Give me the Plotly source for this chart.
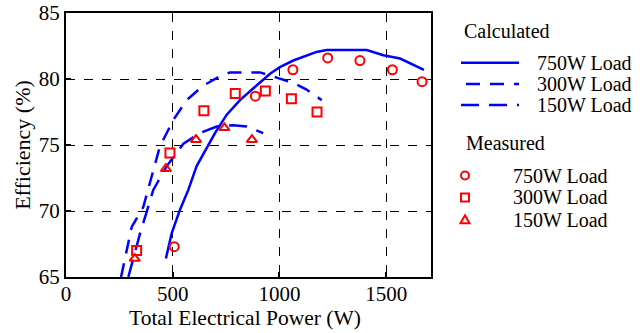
import plotly.graph_objects as go

# ---- Data ----
calc750_x = [468, 495, 534, 573, 612, 659, 698, 753, 815, 878, 956, 1002, 1065, 1174, 1221, 1409, 1487, 1565, 1627, 1677]
calc750_y = [66.4, 68.3, 70.1, 71.6, 73.4, 74.75, 75.9, 77.3, 78.4, 79.3, 80.4, 80.9, 81.4, 82.05, 82.2, 82.2, 81.8, 81.55, 81.05, 80.7]

calc300_x = [258, 308, 362, 440, 503, 565, 643, 721, 768, 846, 909, 987, 1065, 1127, 1198]
calc300_y = [65.0, 68.8, 70.3, 74.9, 76.9, 78.4, 79.5, 80.2, 80.5, 80.5, 80.5, 80.1, 79.7, 79.2, 78.4]

calc150_x = [292, 347, 409, 472, 550, 627, 706, 784, 846, 924]
calc150_y = [65.0, 68.3, 71.6, 73.4, 75.1, 75.9, 76.4, 76.5, 76.4, 75.9]

meas750_x = [507, 887, 1063, 1226, 1377, 1529, 1668]
meas750_y = [67.3, 78.7, 80.7, 81.6, 81.4, 80.7, 79.8]

meas300_x = [331, 487, 646, 793, 934, 1056, 1176]
meas300_y = [67.0, 74.4, 77.6, 78.9, 79.1, 78.5, 77.5]

meas150_x = [322, 468, 609, 742, 871]
meas150_y = [66.4, 73.2, 75.4, 76.3, 75.4]

x_ticks = [0, 500, 1000, 1500]
y_ticks = [65, 70, 75, 80, 85]
legend_labels = ["750W Load", "300W Load", "150W Load"]

# ---- Style ----
FONT = "'Times New Roman', 'Liberation Serif', Times, serif"
BLUE = "#0000FF"
RED = "#FF0000"
W, H = 643, 333
L, R, T, B = 66, 431, 13, 277.3

def px(xp):
    return (xp - L) / (R - L)

def py(yp):
    return (B - yp) / (B - T)

fig = go.Figure()
line_w = 2.5
fig.add_trace(go.Scatter(x=calc750_x, y=calc750_y, mode="lines",
                         line=dict(color=BLUE, width=line_w), showlegend=False))
fig.add_trace(go.Scatter(x=calc300_x, y=calc300_y, mode="lines",
                         line=dict(color=BLUE, width=line_w, dash="14px,10px"), showlegend=False))
fig.add_trace(go.Scatter(x=calc150_x, y=calc150_y, mode="lines",
                         line=dict(color=BLUE, width=line_w, dash="18px,10px"), showlegend=False))

mk = dict(color=RED, size=9, line=dict(color=RED, width=2))
fig.add_trace(go.Scatter(x=meas750_x, y=meas750_y, mode="markers",
                         marker=dict(symbol="circle-open", **mk), showlegend=False))
fig.add_trace(go.Scatter(x=meas300_x, y=meas300_y, mode="markers",
                         marker=dict(symbol="square-open", **mk), showlegend=False))
fig.add_trace(go.Scatter(x=meas150_x, y=meas150_y, mode="markers",
                         marker=dict(symbol="triangle-up-open", **mk), showlegend=False))

axis_common = dict(
    showline=True, linecolor="black", linewidth=2, mirror=True,
    showgrid=True, gridcolor="black", gridwidth=1.3, griddash="dash",
    ticks="inside", ticklen=5, tickcolor="black", tickwidth=1.5,
    tickfont=dict(family=FONT, size=21, color="black"),
    zeroline=False, automargin=False,
)

fig.update_xaxes(range=[0, 1710], tickvals=x_ticks, ticktext=[str(v) for v in x_ticks],
                 ticklabelstandoff=-3, **axis_common)
fig.update_yaxes(range=[65, 85], tickvals=y_ticks, ticktext=[str(v) for v in y_ticks],
                 **axis_common)

# ---- Axis titles and manual legend ----
shapes = []
annots = []
annots.append(dict(x=px(245), y=py(318), xref="paper", yref="paper",
                   text="Total Electrical Power (W)", showarrow=False,
                   xanchor="center", yanchor="middle",
                   font=dict(family=FONT, size=21.5, color="black")))
annots.append(dict(x=px(23), y=py(145), xref="paper", yref="paper",
                   text="Efficiency (%)", showarrow=False, textangle=-90,
                   xanchor="center", yanchor="middle",
                   font=dict(family=FONT, size=22, color="black")))

tf = dict(family=FONT, size=20, color="black")
annots.append(dict(x=px(462), y=py(31), xref="paper", yref="paper", text="Calculated",
                   showarrow=False, xanchor="left", yanchor="middle", font=tf))
dashes = ["solid", "14px,10px", "18px,10px"]
line_rows = [62.7, 84, 105]
line_x0 = [461, 466, 461]
for lab, d, yr, x0 in zip(legend_labels, dashes, line_rows, line_x0):
    shapes.append(dict(type="line", xref="paper", yref="paper", x0=px(x0), x1=px(519),
                       y0=py(yr), y1=py(yr), line=dict(color=BLUE, width=line_w, dash=d)))
    annots.append(dict(x=px(535), y=py(yr), xref="paper", yref="paper", text=lab,
                       showarrow=False, xanchor="left", yanchor="middle", font=tf))

annots.append(dict(x=px(464), y=py(143), xref="paper", yref="paper", text="Measured",
                   showarrow=False, xanchor="left", yanchor="middle", font=tf))
mrows = [175.7, 197.7, 220]
mx = 465
for lab, yr in zip(legend_labels, mrows):
    annots.append(dict(x=px(511), y=py(yr), xref="paper", yref="paper", text=lab,
                       showarrow=False, xanchor="left", yanchor="middle", font=tf))
common = dict(xref="paper", yref="paper", xsizemode="pixel", ysizemode="pixel",
              line=dict(color=RED, width=2), fillcolor="rgba(0,0,0,0)")
shapes.append(dict(type="circle", xanchor=px(mx), yanchor=py(mrows[0]),
                   x0=-4, x1=4, y0=-4, y1=4, **common))
shapes.append(dict(type="rect", xanchor=px(mx), yanchor=py(mrows[1]),
                   x0=-4, x1=4, y0=-4, y1=4, **common))
shapes.append(dict(type="path", xanchor=px(mx), yanchor=py(mrows[2]),
                   path="M -4.5 -3.5 L 4.5 -3.5 L 0 4.5 Z", **common))

fig.update_layout(
    width=W, height=H,
    margin=dict(l=L, r=W - R, t=T, b=H - B),
    plot_bgcolor="white", paper_bgcolor="white",
    shapes=shapes, annotations=annots, showlegend=False,
    font=dict(family=FONT, color="black"),
)

fig.write_html("out.html")
